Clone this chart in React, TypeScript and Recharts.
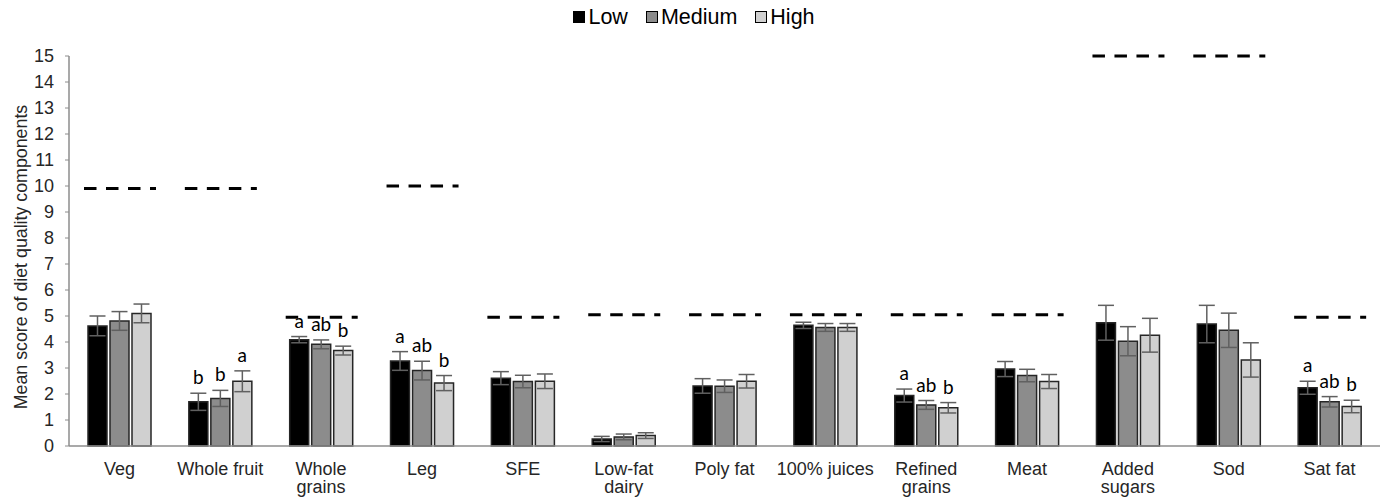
import React from "react";
import { ComposedChart, Bar, XAxis, YAxis, ErrorBar, LabelList, Legend } from "recharts";

const categories = [
  "Veg", "Whole fruit", "Whole\ngrains", "Leg", "SFE", "Low-fat\ndairy", "Poly fat",
  "100% juices", "Refined\ngrains", "Meat", "Added\nsugars", "Sod", "Sat fat",
];

const lowMean = [4.62, 1.7, 4.09, 3.27, 2.61, 0.27, 2.31, 4.64, 1.94, 2.96, 4.74, 4.69, 2.24];
const lowErr = [0.38, 0.33, 0.12, 0.36, 0.25, 0.1, 0.28, 0.12, 0.25, 0.29, 0.67, 0.72, 0.25];
const medMean = [4.81, 1.83, 3.91, 2.9, 2.48, 0.35, 2.3, 4.56, 1.58, 2.71, 4.03, 4.45, 1.7];
const medErr = [0.36, 0.31, 0.17, 0.36, 0.24, 0.11, 0.24, 0.15, 0.17, 0.24, 0.56, 0.66, 0.2];
const highMean = [5.1, 2.49, 3.67, 2.42, 2.49, 0.4, 2.49, 4.56, 1.47, 2.48, 4.26, 3.31, 1.52];
const highErr = [0.36, 0.4, 0.17, 0.29, 0.28, 0.11, 0.26, 0.15, 0.2, 0.27, 0.65, 0.66, 0.24];

// maximum possible score per component (dashed markers)
const maxScore = [9.9, 9.9, 4.95, 10, 4.95, 5.05, 5.05, 5.05, 5.05, 5.05, 15, 15, 4.95];

// significance letters
const lowLetter = ["", "b", "a", "a", "", "", "", "", "a", "", "", "", "a"];
const medLetter = ["", "b", "ab", "ab", "", "", "", "", "ab", "", "", "", "ab"];
const highLetter = ["", "a", "b", "b", "", "", "", "", "b", "", "", "", "b"];

const seriesNames = ["Low", "Medium", "High"];
const yTicks = [0, 1, 2, 3, 4, 5, 6, 7, 8, 9, 10, 11, 12, 13, 14, 15];

const data = categories.map((name, i) => ({
  name,
  low: lowMean[i], lowErr: lowErr[i], lowLetter: lowLetter[i],
  med: medMean[i], medErr: medErr[i], medLetter: medLetter[i],
  high: highMean[i], highErr: highErr[i], highLetter: highLetter[i],
  max: maxScore[i],
}));

const FONT = "'Liberation Sans', Arial, sans-serif";

function letterLabel(means: number[], errs: number[]) {
  return (p: any) => {
    const { x, y, width, height, value, index } = p;
    if (!value) return null;
    const ppu = height / means[index];
    const top = y - errs[index] * ppu - 9;
    return (
      <text x={x + width / 2} y={top} textAnchor="middle" fontSize={19} fill="#000"
        fontFamily="Lato, 'Open Sans', sans-serif">
        {value}
      </text>
    );
  };
}

const MaxDash = (p: any) => {
  const { x, y, width } = p;
  return (
    <line x1={x + 1} x2={x + width + 1} y1={y} y2={y} stroke="#000" strokeWidth={3}
      strokeDasharray="12.5 9.5" />
  );
};

const CatTick = (p: any) => {
  const { x, y, payload } = p;
  const lines = String(payload.value).split("\n");
  return (
    <text x={x} y={y + 21} textAnchor="middle" fontSize={18} fill="#262626" fontFamily={FONT}>
      {lines.map((l, i) => (
        <tspan key={i} x={x} dy={i === 0 ? 0 : 18}>{l}</tspan>
      ))}
    </text>
  );
};

const LegendContent = (p: any) => {
  const items = (p.payload || [])
    .filter((it: any) => seriesNames.includes(it.value))
    .sort((a: any, b: any) => seriesNames.indexOf(a.value) - seriesNames.indexOf(b.value));
  return (
    <div style={{ display: "flex", justifyContent: "center", gap: 18, fontFamily: FONT, fontSize: 21.5, color: "#000", lineHeight: "24px", paddingLeft: 8 }}>
      {items.map((it: any) => (
        <div key={it.value} style={{ display: "flex", alignItems: "center" }}>
          <span style={{ width: 10, height: 10, background: it.color, border: "1px solid #000", display: "inline-block", marginRight: 3 }} />
          <span>{it.value}</span>
        </div>
      ))}
    </div>
  );
};

export default function App() {
  return (
    <div style={{ position: "absolute", left: 0, top: 0, width: 1386, height: 501, background: "#fff" }}>
      <ComposedChart width={1386} height={501} data={data} style={{ overflow: "visible" }}
        margin={{ top: 32, right: 6, bottom: 0, left: 0 }} barGap={3}>
        <Legend verticalAlign="top" align="center" content={<LegendContent />}
          wrapperStyle={{ top: 5 }} />
        <XAxis dataKey="name" xAxisId="main" interval={0} height={55} tickLine={false}
          axisLine={{ stroke: "#8c8c8c", strokeWidth: 1.5 }} tick={<CatTick />} />
        <XAxis dataKey="name" xAxisId="max" hide />
        <YAxis domain={[0, 15]} ticks={yTicks} interval={0} width={69} tickSize={4} tickMargin={11}
          axisLine={{ stroke: "#8c8c8c", strokeWidth: 1.5 }} tickLine={{ stroke: "#8c8c8c" }}
          tick={{ fontSize: 18, fill: "#262626", fontFamily: FONT }}
          label={{
            content: () => (
              <text x={27} y={257} transform="rotate(-90 27 257)" textAnchor="middle"
                fontSize={17.8} fill="#262626" fontFamily={FONT}>
                Mean score of diet quality components
              </text>
            ),
          }} />
        <Bar xAxisId="main" dataKey="low" name="Low" fill="#000000" stroke="#262626" strokeWidth={1.5}
          barSize={19} isAnimationActive={false}>
          <ErrorBar dataKey="lowErr" width={8} stroke="#606060" strokeWidth={1.5} />
          <LabelList dataKey="lowLetter" content={letterLabel(lowMean, lowErr)} />
        </Bar>
        <Bar xAxisId="main" dataKey="med" name="Medium" fill="#8c8c8c" stroke="#262626" strokeWidth={1.5}
          barSize={19} isAnimationActive={false}>
          <ErrorBar dataKey="medErr" width={8} stroke="#606060" strokeWidth={1.5} />
          <LabelList dataKey="medLetter" content={letterLabel(medMean, medErr)} />
        </Bar>
        <Bar xAxisId="main" dataKey="high" name="High" fill="#d0d0d0" stroke="#262626" strokeWidth={1.5}
          barSize={19} isAnimationActive={false}>
          <ErrorBar dataKey="highErr" width={8} stroke="#606060" strokeWidth={1.5} />
          <LabelList dataKey="highLetter" content={letterLabel(highMean, highErr)} />
        </Bar>
        <Bar xAxisId="max" dataKey="max" barSize={72} fill="none" legendType="none"
          shape={<MaxDash />} isAnimationActive={false} />
      </ComposedChart>
    </div>
  );
}
